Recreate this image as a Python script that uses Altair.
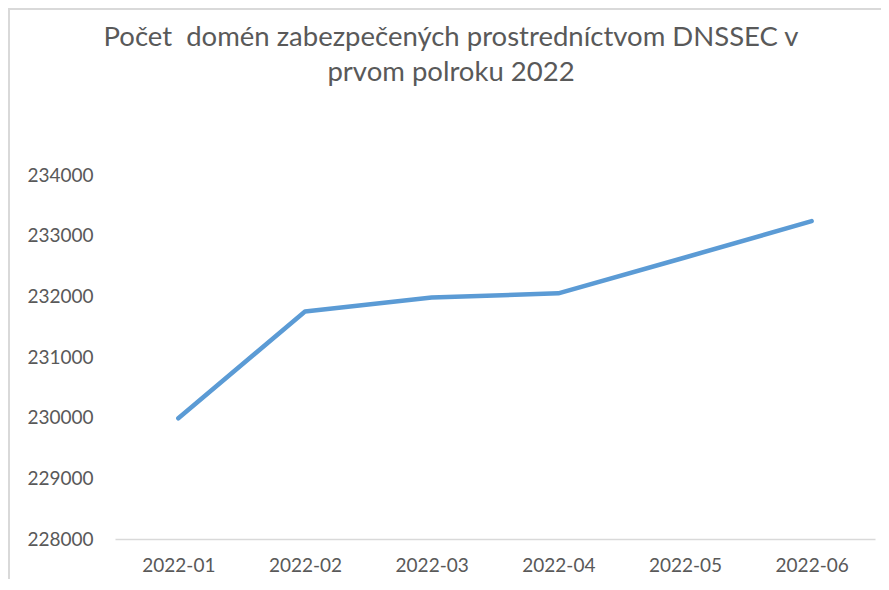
import altair as alt
import pandas as pd

months = ["2022-01", "2022-02", "2022-03", "2022-04", "2022-05", "2022-06"]
domains = [229990, 231750, 231980, 232050, 232640, 233240]
y_ticks = [228000, 229000, 230000, 231000, 232000, 233000, 234000]

df = pd.DataFrame({"mesiac": months, "pocet": domains})

FONT = "Lato"
GREY = "#595959"

W, H = 760, 364
PL, PT = 107, 167

line = alt.Chart(df).mark_line(
    color="#5B9BD5", strokeWidth=4.5, strokeCap="round", strokeJoin="round"
).encode(
    x=alt.X("mesiac:O", sort=months,
            scale=alt.Scale(type="point", padding=0.5),
            axis=alt.Axis(title=None, labelAngle=0, ticks=False,
                          domainColor="#d9d9d9", domainWidth=1.5,
                          labelPadding=17, labelFontSize=19,
                          labelColor=GREY, labelFont=FONT)),
    y=alt.Y("pocet:Q",
            scale=alt.Scale(domain=[228000, 234000], nice=False, zero=False),
            axis=alt.Axis(title=None, values=y_ticks, format="d",
                          grid=False, ticks=False, domain=False,
                          labelPadding=22, labelFontSize=19,
                          labelColor=GREY, labelFont=FONT)),
)

frame_left = alt.Chart(df).mark_rule(color="#d9d9d9", strokeWidth=1.5).encode(
    x=alt.value(-PL + 1), y=alt.value(-PT), y2=alt.value(H + 60)
)
frame_top = alt.Chart(df).mark_rule(color="#d9d9d9", strokeWidth=1.5).encode(
    x=alt.value(-PL + 1), x2=alt.value(W + 30), y=alt.value(-PT + 1)
)

chart = alt.layer(frame_left, frame_top, line).properties(
    width=W,
    height=H,
    autosize=alt.AutoSizeParams(type="none"),
    padding={"left": PL, "top": PT, "right": 6, "bottom": 40},
    background="white",
    title=alt.TitleParams(
        text=["Počet\u00a0 domén zabezpečených prostredníctvom DNSSEC v",
              "prvom polroku 2022"],
        anchor="middle", frame="group", dx=-44, offset=-79,
        fontSize=27.5, font=FONT, fontWeight="normal", color=GREY,
        lineHeight=35,
    ),
).configure_view(stroke="transparent", strokeWidth=0)

chart.save("out.html", embed_options={"renderer": "svg", "actions": False})
